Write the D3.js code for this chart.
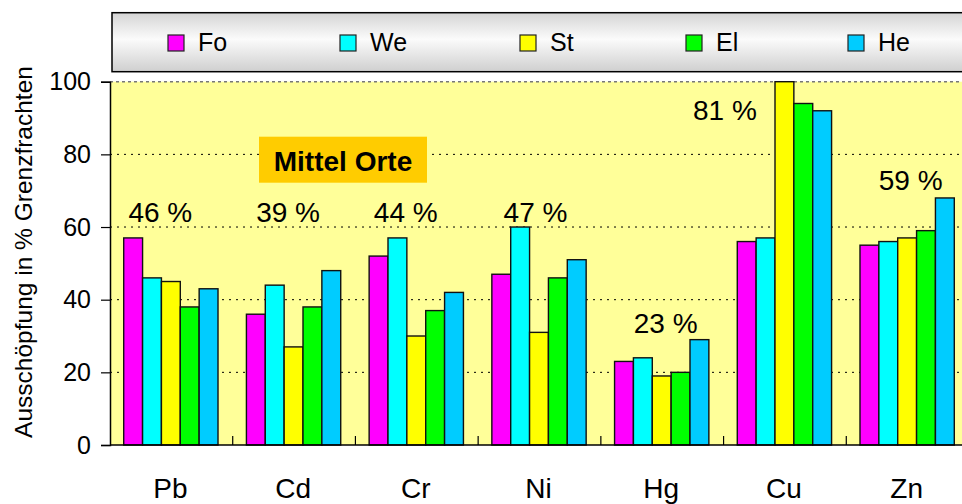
<!DOCTYPE html>
<html>
<head>
<meta charset="utf-8">
<script src="https://cdn.jsdelivr.net/npm/d3@7"></script>
<style>
  body { margin: 0; background: #fff; }
  svg { display: block; font-family: Arial, "Liberation Sans", sans-serif; }
</style>
</head>
<body>
<div id="chart"></div>
<script>
// Daten
const categories = ['Pb', 'Cd', 'Cr', 'Ni', 'Hg', 'Cu', 'Zn'];
const seriesNames = ['Fo', 'We', 'St', 'El', 'He'];
const fo = [57, 36, 52, 47, 23, 56, 55];
const we = [46, 44, 57, 60, 24, 57, 56];
const st = [45, 27, 30, 31, 19, 100, 57];
const el = [38, 38, 37, 46, 20, 94, 59];
const he = [43, 48, 42, 51, 29, 92, 68];
const means = [46, 39, 44, 47, 23, 81, 59];
const yTicks = [0, 20, 40, 60, 80, 100];

const colors = ['#ff00ff', '#00ffff', '#ffff00', '#00ff00', '#00ccff'];
// Position der Prozent-Beschriftungen (Versatz zur Gruppenmitte, Höhe in Achsenwerten)
const labelDx = [-11, -6, -11, -4, 3.5, -60, 3];
const labelY = [61.4, 61.4, 61.4, 61.4, 30.8, 89.5, 70.2];

const width = 962, height = 504;
const svg = d3.select('#chart').append('svg')
    .attr('width', width)
    .attr('height', height);

const x0 = d3.scaleBand().domain(categories).range([110, 969]);
const x1 = d3.scaleBand().domain(seriesNames).range([0, 94.3]);
const y = d3.scaleLinear().domain([0, 100]).range([445, 81.7]);

// Legende
const grad = svg.append('defs').append('linearGradient')
    .attr('id', 'legGrad').attr('x1', 0).attr('y1', 0).attr('x2', 0).attr('y2', 1);
grad.append('stop').attr('offset', '0%').attr('stop-color', '#d4d4d4');
grad.append('stop').attr('offset', '45%').attr('stop-color', '#fbfbfb');
grad.append('stop').attr('offset', '100%').attr('stop-color', '#cfcfcf');

svg.append('rect')
    .attr('x', 112).attr('y', 12.7)
    .attr('width', 880).attr('height', 59)
    .attr('fill', 'url(#legGrad)')
    .attr('stroke', '#000').attr('stroke-width', 1.5);

const legX = [168, 340, 520, 686, 848];
const leg = svg.selectAll('.leg')
    .data(seriesNames)
    .enter().append('g')
    .attr('class', 'leg')
    .attr('transform', (d, i) => `translate(${legX[i]},35)`);
leg.append('rect')
    .attr('width', 16).attr('height', 16)
    .attr('fill', (d, i) => colors[i])
    .attr('stroke', '#222').attr('stroke-width', 1.2);
leg.append('text')
    .attr('x', 30).attr('y', 16)
    .attr('font-size', 25)
    .text(d => d);

// Plotfläche
svg.append('rect')
    .attr('x', 110).attr('y', y(100))
    .attr('width', 859).attr('height', y(0) - y(100))
    .attr('fill', '#ffff99');

// Gitterlinien
svg.selectAll('.grid')
    .data(yTicks.filter(t => t > 0 && t < 100))
    .enter().append('line')
    .attr('x1', 110).attr('x2', 969)
    .attr('y1', d => y(d)).attr('y2', d => y(d))
    .attr('stroke', '#000').attr('stroke-width', 1)
    .attr('stroke-dasharray', '2,5');
svg.append('line')
    .attr('x1', 110).attr('x2', 969)
    .attr('y1', y(100)).attr('y2', y(100))
    .attr('stroke', '#777').attr('stroke-width', 1.5)
    .attr('stroke-dasharray', '3,3');

// Balken
const values = [fo, we, st, el, he];
const groups = svg.selectAll('.grp')
    .data(categories)
    .enter().append('g')
    .attr('class', 'grp')
    .attr('transform', d => `translate(${x0(d) + (x0.bandwidth() - 94.3) / 2 - 0.5},0)`);

groups.selectAll('rect')
    .data((d, ci) => seriesNames.map((s, si) => ({ s, si, v: values[si][ci] })))
    .enter().append('rect')
    .attr('x', d => x1(d.s))
    .attr('y', d => y(d.v))
    .attr('width', x1.bandwidth())
    .attr('height', d => y(0) - y(d.v))
    .attr('fill', d => colors[d.si])
    .attr('stroke', '#111').attr('stroke-width', 1.4);

// Achsen
const yAxis = d3.axisLeft(y).tickValues(yTicks).tickSize(9).tickPadding(10);
const ya = svg.append('g').attr('transform', 'translate(110,0)').call(yAxis);
ya.select('.domain').attr('stroke', '#000').attr('stroke-width', 1.5);
ya.selectAll('.tick line').attr('stroke', '#000').attr('stroke-width', 1.2);
ya.selectAll('.tick text')
    .attr('font-size', 25)
    .attr('font-family', 'Arial, "Liberation Sans", sans-serif')
    .attr('fill', '#000');

svg.append('line')
    .attr('x1', 110).attr('x2', 969)
    .attr('y1', y(0)).attr('y2', y(0))
    .attr('stroke', '#000').attr('stroke-width', 1.5);

// Kategorie-Trennstriche
svg.selectAll('.ctick')
    .data(categories.slice(1))
    .enter().append('line')
    .attr('x1', d => x0(d)).attr('x2', d => x0(d))
    .attr('y1', y(0)).attr('y2', y(0) - 9)
    .attr('stroke', '#000').attr('stroke-width', 1.2);

svg.selectAll('.clabel')
    .data(categories)
    .enter().append('text')
    .attr('x', d => x0(d) + x0.bandwidth() / 2 - 1)
    .attr('y', 498)
    .attr('text-anchor', 'middle')
    .attr('font-size', 28)
    .text(d => d);

// Prozentwerte
svg.selectAll('.mean')
    .data(categories)
    .enter().append('text')
    .attr('x', (d, i) => x0(d) + x0.bandwidth() / 2 + labelDx[i])
    .attr('y', (d, i) => y(labelY[i]))
    .attr('text-anchor', 'middle')
    .attr('font-size', 28)
    .text((d, i) => means[i] + ' %');

// Titelbox
svg.append('rect')
    .attr('x', 259).attr('y', 136.7)
    .attr('width', 168).attr('height', 46)
    .attr('fill', '#ffcc00');
svg.append('text')
    .attr('x', 343).attr('y', 171)
    .attr('text-anchor', 'middle')
    .attr('font-size', 28)
    .attr('font-weight', 'bold')
    .text('Mittel Orte');

// Y-Achsentitel
svg.append('text')
    .attr('transform', 'translate(32,252) rotate(-90)')
    .attr('text-anchor', 'middle')
    .attr('font-size', 24.5)
    .text('Ausschöpfung in % Grenzfrachten');
</script>
</body>
</html>
